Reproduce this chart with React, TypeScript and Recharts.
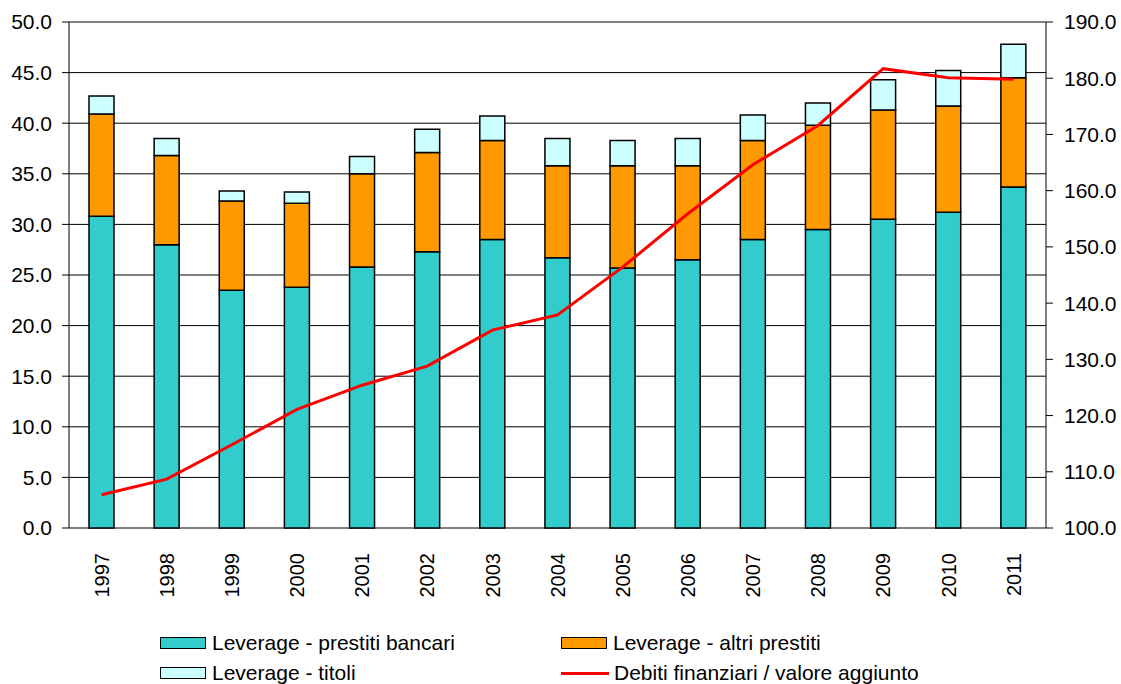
import React from 'react';
import { ComposedChart, Bar, Line, XAxis, YAxis, CartesianGrid } from 'recharts';

const years = ['1997', '1998', '1999', '2000', '2001', '2002', '2003', '2004', '2005', '2006', '2007', '2008', '2009', '2010', '2011'];
const prestitiBancari = [30.8, 28.0, 23.5, 23.8, 25.8, 27.3, 28.5, 26.7, 25.7, 26.5, 28.5, 29.5, 30.5, 31.2, 33.7];
const altriPrestiti = [10.1, 8.8, 8.8, 8.3, 9.2, 9.8, 9.8, 9.1, 10.1, 9.3, 9.8, 10.3, 10.8, 10.5, 10.8];
const titoli = [1.8, 1.7, 1.0, 1.1, 1.7, 2.3, 2.4, 2.7, 2.5, 2.7, 2.5, 2.2, 3.0, 3.5, 3.3];
const debitiVa = [105.9, 108.7, 114.8, 121.1, 125.4, 128.8, 135.2, 137.9, 146.4, 155.9, 164.6, 171.6, 181.7, 180.1, 179.8];

const leftTicks = [0, 5, 10, 15, 20, 25, 30, 35, 40, 45, 50];
const rightTicks = [100, 110, 120, 130, 140, 150, 160, 170, 180, 190];
const edgeTicks = years.map((_, i) => i).concat(years.length);

const data = years.map((year, i) => ({
  year,
  bancari: prestitiBancari[i],
  altri: altriPrestiti[i],
  titoli: titoli[i],
  debiti: debitiVa[i],
}));

const FONT = '"Liberation Sans", Arial, sans-serif';

const YearTick = (props: any) => {
  const { x, y, payload } = props;
  return (
    <text
      x={0}
      y={0}
      transform={`translate(${x},${y + 17}) rotate(-90)`}
      textAnchor="end"
      dy="0.36em"
      fontSize={20}
      fontFamily={FONT}
      fill="#000"
    >
      {payload.value}
    </text>
  );
};

const legendItems = [
  { label: 'Leverage - prestiti bancari', color: '#33CCCC', kind: 'box', left: 160, top: 632 },
  { label: 'Leverage - altri prestiti', color: '#FF9900', kind: 'box', left: 561, top: 632 },
  { label: 'Leverage - titoli', color: '#CCFFFF', kind: 'box', left: 160, top: 662 },
  { label: 'Debiti finanziari / valore aggiunto', color: '#FF0000', kind: 'line', left: 561, top: 662 },
];

export default function App() {
  return (
    <div style={{ position: 'relative', width: 1121, height: 684, background: '#fff', fontFamily: FONT }}>
      <style>{'body{margin:0}'}</style>
      <ComposedChart
        width={1121}
        height={684}
        data={data}
        margin={{ top: 22, right: 5, bottom: 66, left: 9 }}
      >
        <CartesianGrid yAxisId="left" horizontal vertical={false} stroke="#000" strokeWidth={1} />
        <XAxis
          xAxisId="edge"
          type="number"
          domain={[0, years.length]}
          ticks={edgeTicks}
          tick={false}
          tickSize={7}
          height={0}
          stroke="#000"
          allowDataOverflow
        />
        <XAxis
          xAxisId="cat"
          dataKey="year"
          height={90}
          interval={0}
          axisLine={false}
          tickLine={false}
          tick={<YearTick />}
        />
        <YAxis
          yAxisId="left"
          orientation="left"
          width={60}
          domain={[0, 50]}
          ticks={leftTicks}
          tickSize={7}
          tickMargin={10}
          stroke="#000"
          tick={{ fill: '#000', fontSize: 21, fontFamily: FONT }}
          tickFormatter={(v: number) => v.toFixed(1)}
        />
        <YAxis
          yAxisId="right"
          orientation="right"
          width={70}
          domain={[100, 190]}
          ticks={rightTicks}
          tickSize={7}
          tickMargin={11}
          stroke="#000"
          tick={{ fill: '#000', fontSize: 21, fontFamily: FONT, textAnchor: 'start' }}
          tickFormatter={(v: number) => v.toFixed(1)}
        />
        <Bar xAxisId="cat" yAxisId="left" dataKey="bancari" stackId="lev" barSize={25} fill="#33CCCC" stroke="#000" strokeWidth={1.5} isAnimationActive={false} />
        <Bar xAxisId="cat" yAxisId="left" dataKey="altri" stackId="lev" barSize={25} fill="#FF9900" stroke="#000" strokeWidth={1.5} isAnimationActive={false} />
        <Bar xAxisId="cat" yAxisId="left" dataKey="titoli" stackId="lev" barSize={25} fill="#CCFFFF" stroke="#000" strokeWidth={1.5} isAnimationActive={false} />
        <Line xAxisId="cat" yAxisId="right" type="linear" dataKey="debiti" stroke="#FF0000" strokeWidth={3} dot={false} isAnimationActive={false} />
      </ComposedChart>
      {legendItems.map((it) => (
        <div
          key={it.label}
          style={{ position: 'absolute', left: it.left, top: it.top, height: 22, display: 'flex', alignItems: 'center', fontSize: 21, color: '#000', whiteSpace: 'nowrap' }}
        >
          {it.kind === 'box' ? (
            <span style={{ display: 'inline-block', width: 44, height: 10, background: it.color, border: '1.5px solid #000', marginRight: 6 }} />
          ) : (
            <span style={{ display: 'inline-block', width: 48, height: 3, background: it.color, marginRight: 5 }} />
          )}
          <span>{it.label}</span>
        </div>
      ))}
    </div>
  );
}
